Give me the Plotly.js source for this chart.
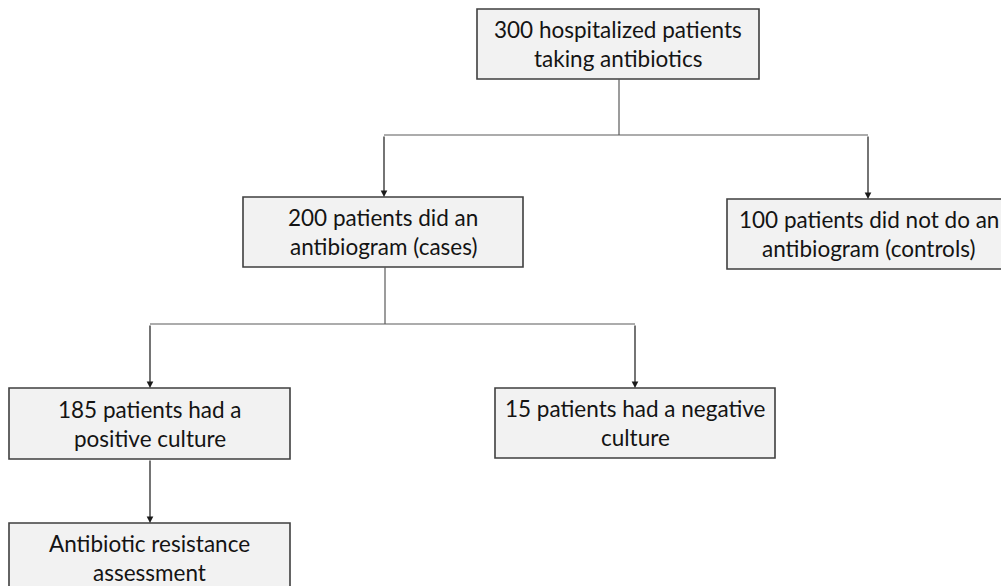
<!DOCTYPE html>
<html><head><meta charset="utf-8">
<script src="https://cdn.plot.ly/plotly-3.0.1.min.js"></script>
<style>html,body{margin:0;padding:0;background:#fff;}#chart{width:1001px;height:586px;}</style>
</head><body><div id="chart"></div>
<script>
// Flowchart content
const nodeIds = ["all", "cases", "controls", "positive", "negative", "assess"];
const nodeCounts = [300, 200, 100, 185, 15, null];
const nodeLines = [
  ["300 hospitalized patients", "taking antibiotics"],
  ["200 patients did an", "antibiogram (cases)"],
  ["100 patients did not do an", "antibiogram (controls)"],
  ["185 patients had a", "positive culture"],
  ["15 patients had a negative", "culture"],
  ["Antibiotic resistance", "assessment"]
];
const edgeFrom = ["all", "all", "cases", "cases", "positive"];
const edgeTo = ["cases", "controls", "positive", "negative", "assess"];

// Layout geometry (pixel-like data units, y downward)
const geom = {
  all:      {x0: 477, x1: 759, y0: 9,   y1: 79},
  cases:    {x0: 243, x1: 523, y0: 197, y1: 267},
  controls: {x0: 727, x1: 1010, y0: 199, y1: 269},
  positive: {x0: 9,   x1: 290, y0: 388, y1: 459},
  negative: {x0: 495, x1: 775, y0: 388, y1: 458},
  assess:   {x0: 9,   x1: 290, y0: 523, y1: 593}
};
const branchY = {all: 135, cases: 324, positive: null};
const arrowX = {cases: 384, controls: 868, positive: 150, negative: 635, assess: 150};
const stemX = {all: 619, cases: 385, positive: 150};

const shapes = [];
const annotations = [];
const lineStyle = {color: "#5a5a5a", width: 1.2};

nodeIds.forEach((id, i) => {
  const g = geom[id];
  shapes.push({type: "rect", xref: "x", yref: "y", x0: g.x0, x1: g.x1, y0: g.y0, y1: g.y1,
    fillcolor: "#f2f2f2", line: {color: "#3f3f3f", width: 1.6}, layer: "below"});
  const cx = (g.x0 + g.x1) / 2, cy = (g.y0 + g.y1) / 2;
  const lines = nodeLines[i];
  const gap = 29;
  lines.forEach((t, k) => {
    annotations.push({x: cx, y: cy + (k - (lines.length - 1) / 2) * gap, xref: "x", yref: "y",
      text: t, showarrow: false, xanchor: "center", yanchor: "middle",
      font: {family: "Lato, 'Open Sans', sans-serif", size: 22.5, color: "#141414"}});
  });
});

// Group edges by parent
const parents = [...new Set(edgeFrom)];
parents.forEach(p => {
  const g = geom[p];
  const kids = edgeTo.filter((t, i) => edgeFrom[i] === p);
  const sx = stemX[p];
  if (kids.length > 1) {
    const by = branchY[p];
    shapes.push({type: "line", xref: "x", yref: "y", x0: sx, x1: sx, y0: g.y1, y1: by, line: lineStyle});
    const xs = kids.map(k => arrowX[k]);
    shapes.push({type: "line", xref: "x", yref: "y", x0: Math.min(...xs), x1: Math.max(...xs), y0: by, y1: by, line: lineStyle});
    kids.forEach(k => {
      annotations.push({x: arrowX[k], y: geom[k].y0, ax: arrowX[k], ay: by, xref: "x", yref: "y",
        axref: "x", ayref: "y", text: "", showarrow: true, arrowhead: 2, arrowsize: 1.1,
        arrowwidth: 1.2, arrowcolor: "#1a1a1a", standoff: 0, startstandoff: 0});
    });
  } else {
    const k = kids[0];
    annotations.push({x: arrowX[k], y: geom[k].y0, ax: sx, ay: g.y1, xref: "x", yref: "y",
      axref: "x", ayref: "y", text: "", showarrow: true, arrowhead: 2, arrowsize: 1.1,
      arrowwidth: 1.2, arrowcolor: "#1a1a1a", standoff: 0, startstandoff: 0});
  }
});

const layout = {
  width: 1001, height: 586,
  margin: {l: 0, r: 0, t: 0, b: 0, pad: 0},
  paper_bgcolor: "#ffffff", plot_bgcolor: "#ffffff",
  xaxis: {range: [0, 1001], visible: false, fixedrange: true},
  yaxis: {range: [586, 0], visible: false, fixedrange: true},
  showlegend: false,
  shapes: shapes,
  annotations: annotations
};
Plotly.newPlot("chart", [{x: [], y: [], type: "scatter", mode: "markers", hoverinfo: "skip"}], layout, {displayModeBar: false, staticPlot: true});
</script>
</body></html>
